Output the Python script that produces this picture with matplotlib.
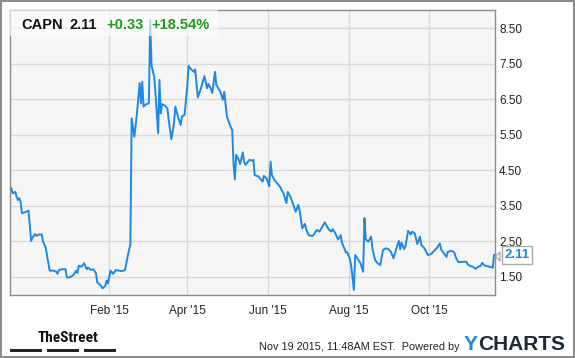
import matplotlib
matplotlib.use("Agg")
import matplotlib.pyplot as plt
from matplotlib.patches import Rectangle, Polygon
from matplotlib import font_manager
import pandas as pd

plt.rcParams['font.family'] = ['Liberation Sans', 'DejaVu Sans']

# ---- data (days since 2014-11-18, closing price) ----
base_date = "2014-11-18"
days = [1, 2, 4, 5, 6, 7, 8, 9, 11, 14, 16, 17, 19, 20, 22, 24, 25, 27, 30, 33,
        35, 36, 37, 39, 42, 43, 45, 48, 50, 51, 52, 54, 56, 58, 59, 61, 63, 65, 66, 69,
        70, 72, 73, 74, 76, 78, 80, 82, 85, 87, 89, 91, 92, 94, 96, 98, 99, 100, 101, 103,
        105, 106, 107, 109, 110, 112, 113, 114, 115, 117, 119, 120, 122, 124, 125, 127, 129, 130, 132, 134,
        135, 137, 139, 140, 142, 144, 147, 149, 150, 152, 153, 155, 156, 157, 159, 161, 162, 164, 167, 168,
        169, 170, 171, 173, 174, 176, 177, 178, 180, 181, 183, 184, 185, 188, 190, 191, 192, 194, 196, 197,
        198, 200, 204, 207, 209, 210, 212, 214, 216, 218, 219, 221, 223, 224, 226, 229, 232, 234, 238, 241,
        243, 244, 246, 248, 250, 251, 254, 255, 257, 258, 260, 261, 265, 267, 268, 269, 271, 273, 274, 276,
        278, 280, 282, 284, 286, 288, 290, 292, 294, 295, 296, 298, 299, 301, 303, 304, 306, 308, 310, 311,
        313, 316, 318, 320, 323, 325, 326, 328, 330, 331, 334, 336, 337, 339, 343, 345, 346, 348, 350, 352,
        354, 356, 357, 359, 363, 365, 366]
prices = [3.99, 3.85, 3.89, 3.75, 3.66, 3.71, 3.61, 3.29, 3.31, 3.36, 2.51, 2.60, 2.70, 2.65, 2.69, 2.69, 2.49, 2.32, 1.67, 1.67,
          1.64, 1.58, 1.69, 1.71, 1.71, 1.48, 1.48, 1.55, 1.67, 1.61, 1.81, 1.78, 1.88, 1.71, 1.76, 1.69, 1.71, 1.60, 1.34, 1.24,
          1.17, 1.24, 1.39, 1.31, 1.67, 1.58, 1.69, 1.67, 1.66, 1.69, 2.08, 2.42, 5.96, 5.44, 6.10, 6.95, 6.38, 6.99, 6.29, 6.36,
          6.38, 8.73, 7.45, 7.13, 6.67, 5.54, 7.04, 6.10, 6.36, 6.32, 6.24, 5.91, 5.37, 5.82, 6.29, 6.01, 5.77, 6.01, 6.06, 6.85,
          7.44, 7.34, 7.27, 7.34, 6.55, 6.76, 7.15, 6.81, 6.93, 6.78, 6.68, 7.27, 6.90, 6.84, 6.71, 6.48, 6.71, 6.01, 5.70, 5.63,
          4.69, 4.24, 4.93, 4.79, 4.67, 5.00, 4.74, 4.65, 4.74, 4.79, 4.77, 4.79, 4.36, 4.32, 4.22, 4.18, 4.34, 4.27, 4.05, 4.74,
          4.36, 4.22, 4.04, 3.83, 3.57, 3.89, 3.75, 3.55, 3.33, 3.52, 3.35, 2.86, 2.99, 2.82, 2.66, 2.65, 2.82, 2.77, 3.03, 2.83,
          2.77, 2.84, 2.72, 2.55, 2.67, 2.46, 2.18, 2.19, 1.99, 1.80, 1.13, 2.11, 1.88, 1.64, 3.15, 2.55, 2.49, 2.63, 2.30, 1.97,
          1.88, 1.83, 2.25, 2.30, 2.28, 2.20, 2.02, 2.28, 2.51, 2.27, 2.46, 2.28, 2.35, 2.79, 2.69, 2.77, 2.72, 2.42, 2.63, 2.39,
          2.32, 2.11, 2.13, 2.20, 2.32, 2.44, 2.27, 2.16, 2.06, 2.20, 2.23, 2.18, 2.05, 1.91, 1.92, 1.92, 1.85, 1.80, 1.78, 1.72,
          1.78, 1.81, 1.89, 1.81, 1.78, 1.75, 2.11]

y_ticks = [1.5, 2.5, 3.5, 4.5, 5.5, 6.5, 7.5, 8.5]
x_tick_dates = ["2015-02-01", "2015-04-01", "2015-06-01", "2015-08-01", "2015-10-01"]
x_tick_labels = ["Feb '15", "Apr '15", "Jun '15", "Aug '15", "Oct '15"]

ticker_name = "CAPN"
last_price = "2.11"
change = "+0.33"
change_pct = "+18.54%"

# ---- figure ----
W, H = 575, 358
fig = plt.figure(figsize=(W / 100, H / 100), dpi=100)
fig.patch.set_facecolor("white")

def fx(px):
    return px / W

def fy(py):
    return 1 - py / H

ax = fig.add_axes([fx(10), fy(295), fx(485), 285 / H])
ax.set_facecolor("#f6f6f6")

dates = pd.Timestamp(base_date) + pd.to_timedelta(days, unit="D")
ax.plot(dates, prices, color="#1e88e5", lw=1.4, solid_joinstyle="round", zorder=3)

ax.set_xlim(pd.Timestamp(base_date), pd.Timestamp(base_date) + pd.Timedelta(days=366.7))
ax.set_ylim(0.985, 9.01)

ax.yaxis.tick_right()
ax.set_yticks(y_ticks)
ax.set_yticklabels([f"{v:.2f}" for v in y_ticks])
ax.set_xticks(pd.to_datetime(x_tick_dates))
ax.set_xticklabels(x_tick_labels)
ax.tick_params(axis="both", length=0, labelsize=8.5, labelcolor="#222222")
ax.tick_params(axis="y", pad=3)
ax.tick_params(axis="x", pad=7)
ax.grid(True, color="#d9d9d9", lw=1)
ax.set_axisbelow(True)
for s in ax.spines.values():
    s.set_color("#8c8c8c")
    s.set_linewidth(1)

# last price tag
ax.annotate(last_price, xy=(1.0, 2.11), xycoords=("axes fraction", "data"),
            xytext=(7, 0), textcoords="offset points", ha="left", va="center",
            fontsize=9.5, fontweight="bold", color="#1e88e5",
            bbox=dict(boxstyle="square,pad=0.2", fc="white", ec="#aaaaaa", lw=1),
            annotation_clip=False, zorder=5)
fig.patches.append(Polygon([[fx(495.5), fy(256.5)], [fx(500), fy(252)], [fx(500), fy(261)]],
                           closed=True, fc="white", ec="#aaaaaa", lw=1,
                           transform=fig.transFigure, figure=fig, zorder=6))

# title box
fig.patches.append(Rectangle((fx(10), fy(36)), fx(208), 26 / H, transform=fig.transFigure,
                             fc="white", ec="none", alpha=0.65, zorder=10, figure=fig))
fig.text(fx(21.5), fy(29.3), ticker_name, fontsize=10.5, fontweight="bold", color="#111111",
         va="baseline", zorder=11)
fig.text(fx(70), fy(29.3), last_price, fontsize=10.5, fontweight="bold", color="#111111",
         va="baseline", zorder=11)
fig.text(fx(106), fy(29.3), change, fontsize=10.5, fontweight="bold", color="#1e9a1e",
         va="baseline", zorder=11)
fig.text(fx(151), fy(29.3), change_pct, fontsize=10.5, fontweight="bold", color="#1e9a1e",
         va="baseline", zorder=11)

# footer: pick a narrow font if one is installed
street_family, street_size = "Liberation Sans", 8.0
for cand, size in [("Liberation Sans Narrow", 11.0), ("Roboto Condensed", 11.0),
                   ("Open Sans Condensed", 11.0), ("Arial Narrow", 11.0)]:
    try:
        font_manager.findfont(font_manager.FontProperties(family=cand), fallback_to_default=False)
        street_family, street_size = cand, size
        break
    except Exception:
        pass
fig.text(fx(38), fy(341.5), "TheStreet", fontsize=street_size, fontweight="bold",
         family=[street_family, "DejaVu Sans"], color="#111111", va="baseline")
for x0, x1 in [(10.3, 42.2), (47, 78.8), (83.6, 115.5)]:
    fig.patches.append(Rectangle((fx(x0), fy(351.8)), fx(x1 - x0), 3 / H,
                                 transform=fig.transFigure, fc="#222222", ec="none", figure=fig))
fig.text(fx(459.5), fy(350), "Nov 19 2015, 11:48AM EST.  Powered by", fontsize=7.8,
         color="#222222", ha="right", va="baseline")
fig.text(fx(464), fy(350), "Y", fontsize=15, fontweight="bold", color="#1e88e5", va="baseline")
fig.text(fx(478), fy(350), "CHARTS", fontsize=15, fontweight="bold", color="#1c2b3a", va="baseline")

# outer frame
fig.patches.append(Rectangle((fx(1), fy(357)), fx(573), 356 / H, transform=fig.transFigure,
                             fc="none", ec="#8c8c8c", lw=1.5, figure=fig, zorder=20))

fig.savefig("out.png", dpi=100)
